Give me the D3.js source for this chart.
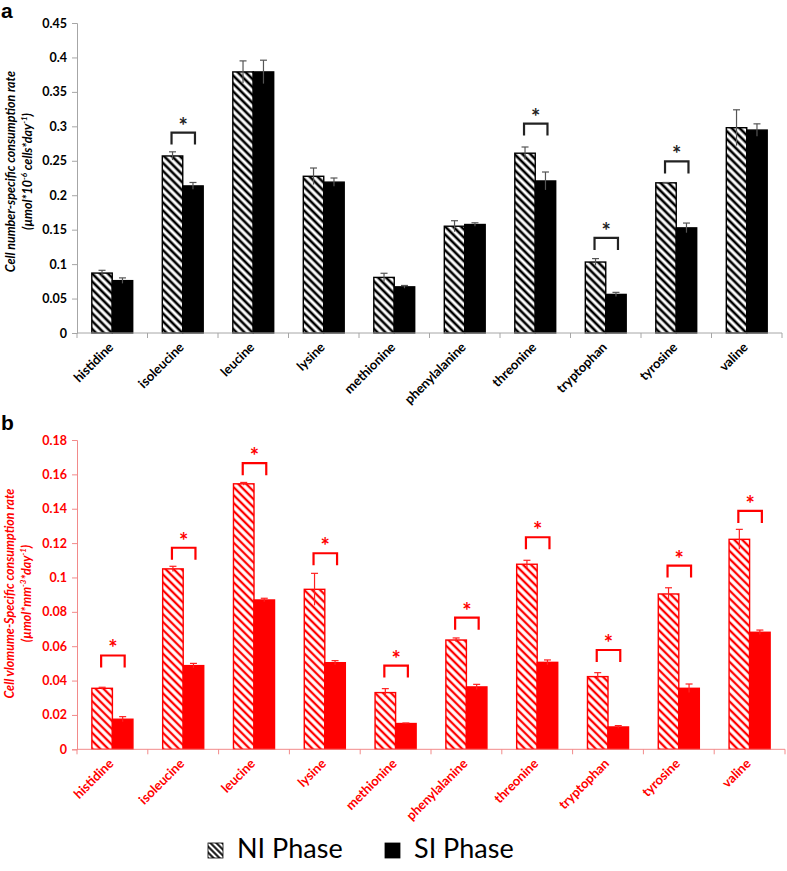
<!DOCTYPE html>
<html><head><meta charset="utf-8">
<script src="https://cdn.jsdelivr.net/npm/d3@7"></script>
<style>body{margin:0;background:#fff}svg{display:block}</style>
</head><body><svg id="c" width="787" height="871"></svg>
<script>
const categories = ["histidine","isoleucine","leucine","lysine","methionine","phenylalanine","threonine","tryptophan","tyrosine","valine"];
const seriesNames = ["NI Phase","SI Phase"];
// panel a
const niA    = [0.087,0.257,0.379,0.2275,0.0807,0.155,0.261,0.103,0.218,0.298];
const niAErr = [0.004,0.006,0.016,0.012,0.006,0.008,0.009,0.005,0.0005,0.026];
const siA    = [0.076,0.2135,0.379,0.219,0.067,0.1575,0.2207,0.056,0.1526,0.2946];
const siAErr = [0.004,0.005,0.017,0.006,0.002,0.0025,0.013,0.003,0.007,0.009];
const sigA   = [null,0.291,null,null,null,null,0.304,0.138,0.249,null];
const ticksA = [0,0.05,0.1,0.15,0.2,0.25,0.3,0.35,0.4,0.45];
// panel b
const niB    = [0.0355,0.105,0.1545,0.0931,0.033,0.0636,0.1077,0.0423,0.0904,0.1222];
const niBErr = [0.0006,0.0015,0.0008,0.0093,0.0023,0.0012,0.0023,0.0023,0.0036,0.0058];
const siB    = [0.0175,0.0487,0.0869,0.0504,0.015,0.0363,0.0506,0.013,0.0355,0.0681];
const siBErr = [0.0015,0.0013,0.001,0.0012,0.0003,0.0015,0.0014,0.0008,0.0025,0.0013];
const sigB   = [0.0546,0.1173,0.1665,0.1141,0.0487,0.0766,0.1234,0.0578,0.1069,0.1387];
const ticksB = [0,0.02,0.04,0.06,0.08,0.1,0.12,0.14,0.16,0.18];

const svg = d3.select("#c");
const FONT = "Lato, 'Open Sans', sans-serif";
const defs = svg.append("defs");
function hatch(id, color, size, sw){
  const p = defs.append("pattern").attr("id", id).attr("patternUnits","userSpaceOnUse")
    .attr("width", size).attr("height", size).attr("patternTransform","rotate(-45)");
  p.append("rect").attr("width",size).attr("height",size).attr("fill","#fff");
  p.append("line").attr("x1",size/2).attr("x2",size/2).attr("y1",0).attr("y2",size)
    .attr("stroke",color).attr("stroke-width",sw);
}
hatch("hA","#000",5.6,2.6);
hatch("hB","#ff0000",5.6,2.3);
hatch("hL","#000",4.2,1.9);

function panel(o){
  const g = svg.append("g");
  const y = d3.scaleLinear().domain([0, o.ticks[o.ticks.length-1]]).range([o.y0, o.y1]);
  const x = d3.scaleBand().domain(categories).range([o.x0, o.x1]).paddingInner(0.42).paddingOuter(0.21);
  const xs = d3.scaleBand().domain(seriesNames).range([0, x.bandwidth()]);
  const fmt = d => d === 0 ? "0" : String(+d.toFixed(2));
  // y axis
  const ya = g.append("g").attr("transform",`translate(${o.x0},0)`)
    .call(d3.axisLeft(y).tickValues(o.ticks).tickFormat(fmt).tickSize(5).tickPadding(5));
  ya.select(".domain").attr("stroke",o.axisColor).attr("stroke-width",1);
  ya.selectAll(".tick line").attr("stroke",o.axisColor);
  ya.selectAll(".tick text").attr("fill",o.textColor).attr("font-family",FONT)
    .attr("font-weight","bold").attr("font-size",12.5);
  // bars
  const data = categories.map((c,i)=>({c, i, vals:[{s:seriesNames[0],v:o.ni[i],e:o.niErr[i]},{s:seriesNames[1],v:o.si[i],e:o.siErr[i]}]}));
  const grp = g.selectAll("g.grp").data(data).join("g").attr("class","grp").attr("transform",d=>`translate(${x(d.c)},0)`);
  grp.selectAll("rect").data(d=>d.vals).join("rect")
    .attr("x",d=>xs(d.s)).attr("width",xs.bandwidth())
    .attr("y",d=>y(d.v)).attr("height",d=>y(0)-y(d.v))
    .attr("fill",d=>d.s===seriesNames[0]?`url(#${o.hatch})`:o.barColor)
    .attr("stroke",o.barColor).attr("stroke-width",1.4);
  // error bars
  const eb = grp.selectAll("g.eb").data(d=>d.vals).join("g").attr("class","eb");
  eb.append("line").attr("x1",d=>xs(d.s)+xs.bandwidth()/2).attr("x2",d=>xs(d.s)+xs.bandwidth()/2)
    .attr("y1",d=>y(d.v-d.e)).attr("y2",d=>y(d.v+d.e)).attr("stroke",o.errColor).attr("stroke-width",1.2);
  eb.append("line").attr("x1",d=>xs(d.s)+xs.bandwidth()/2-3.5).attr("x2",d=>xs(d.s)+xs.bandwidth()/2+3.5)
    .attr("y1",d=>y(d.v+d.e)).attr("y2",d=>y(d.v+d.e)).attr("stroke",o.errColor).attr("stroke-width",1.2);
  // x axis
  g.append("line").attr("x1",o.x0).attr("x2",o.x1).attr("y1",y(0)).attr("y2",y(0))
    .attr("stroke",o.axisColor).attr("stroke-width",1);
  const step = x.step();
  const bounds = d3.range(categories.length+1).map(i=>i===categories.length? x(categories[i-1])+x.bandwidth()+step*0.21 : x(categories[i])-step*0.21);
  g.selectAll("line.xt").data(bounds).join("line").attr("class","xt").attr("x1",d=>d).attr("x2",d=>d)
    .attr("y1",y(0)).attr("y2",y(0)+5).attr("stroke",o.axisColor);
  g.selectAll("text.xl").data(categories).join("text").attr("class","xl")
    .attr("transform",c=>`translate(${x(c)+x.bandwidth()/2+2},${y(0)+15}) rotate(-45)`)
    .attr("text-anchor","end").attr("font-family",FONT).attr("font-weight","bold")
    .attr("font-size",13).attr("fill",o.textColor).text(c=>c);
  // significance brackets
  const sig = data.filter(d=>o.sig[d.i]!=null);
  const bg = g.selectAll("g.sig").data(sig).join("g").attr("class","sig").attr("transform",d=>`translate(${x(d.c)},0)`);
  bg.append("path").attr("fill","none").attr("stroke",o.sigColor).attr("stroke-width",2.2)
    .attr("d",d=>{const xa=xs(seriesNames[0])+xs.bandwidth()/2-1, xb=xs(seriesNames[1])+xs.bandwidth()/2+2, t=y(o.sig[d.i]);
      return `M${xa},${t+12}V${t}H${xb}V${t+12}`;});
  bg.append("text").attr("x",x.bandwidth()/2+0.5).attr("y",d=>y(o.sig[d.i])+1).attr("text-anchor","middle")
    .attr("font-family",FONT).attr("font-weight","bold").attr("font-size",22).attr("fill",o.sigColor).text("*");
  // y label
  const cy = (o.labelTop+o.labelBot)/2;
  g.append("text").attr("transform",`translate(${o.labX1},${cy}) rotate(-90)`).attr("text-anchor","middle")
    .attr("font-family",FONT).attr("font-weight","bold").attr("font-style","italic").attr("font-size",12.5)
    .attr("fill",o.textColor).text(o.label1);
  const l2 = g.append("text").attr("transform",`translate(${o.labX2},${cy}) rotate(-90)`).attr("text-anchor","middle")
    .attr("font-family",FONT).attr("font-weight","bold").attr("font-style","italic").attr("font-size",12.5)
    .attr("fill",o.textColor);
  o.label2.forEach(p=>{ const t=l2.append("tspan").text(p.t); if(p.sup){t.attr("font-size",8).attr("dy",-5);} else if(p.after){t.attr("dy",5);} });
  // panel letter
  svg.append("text").attr("x",1).attr("y",o.letterY).attr("font-family","'Liberation Sans', Arial, sans-serif")
    .attr("font-weight","bold").attr("font-size",21).attr("fill","#000").text(o.letter);
}

panel({x0:77,x1:782,y0:333,y1:23,ticks:ticksA,ni:niA,niErr:niAErr,si:siA,siErr:siAErr,sig:sigA,
  hatch:"hA",barColor:"#000",errColor:"#555",axisColor:"#a6a6a6",textColor:"#000",sigColor:"#222",
  label1:"Cell number-specific consumption rate",
  label2:[{t:"(µmol*10"},{t:"-6",sup:true},{t:" cells*day",after:true},{t:"-1",sup:true},{t:")",after:true}],
  labX1:15,labX2:32,labelTop:80,labelBot:263,letter:"a",letterY:18});
panel({x0:77,x1:785,y0:749.3,y1:440,ticks:ticksB,ni:niB,niErr:niBErr,si:siB,siErr:siBErr,sig:sigB,
  hatch:"hB",barColor:"#ff0000",errColor:"#ff2020",axisColor:"#f28a8a",textColor:"#ff0000",sigColor:"#ff0000",
  label1:"Cell vlomume-Specific consumption rate",
  label2:[{t:"(µmol*mm"},{t:"-3",sup:true},{t:"*day",after:true},{t:"-1",sup:true},{t:")",after:true}],
  labX1:14,labX2:31,labelTop:487,labelBot:700,letter:"b",letterY:430});

// legend
const lg = svg.append("g").attr("font-family",FONT);
const legendItems = [{s:seriesNames[0],x:208,fill:"url(#hL)"},{s:seriesNames[1],x:385,fill:"#000"}];
lg.selectAll("rect").data(legendItems).join("rect").attr("x",d=>d.x).attr("y",843).attr("width",15).attr("height",15)
  .attr("fill",d=>d.fill).attr("stroke","#000").attr("stroke-width",0.8);
lg.selectAll("text").data(legendItems).join("text").attr("x",d=>d.x+29).attr("y",858)
  .attr("font-size",27).attr("fill","#000").text(d=>d.s);
</script></body></html>
